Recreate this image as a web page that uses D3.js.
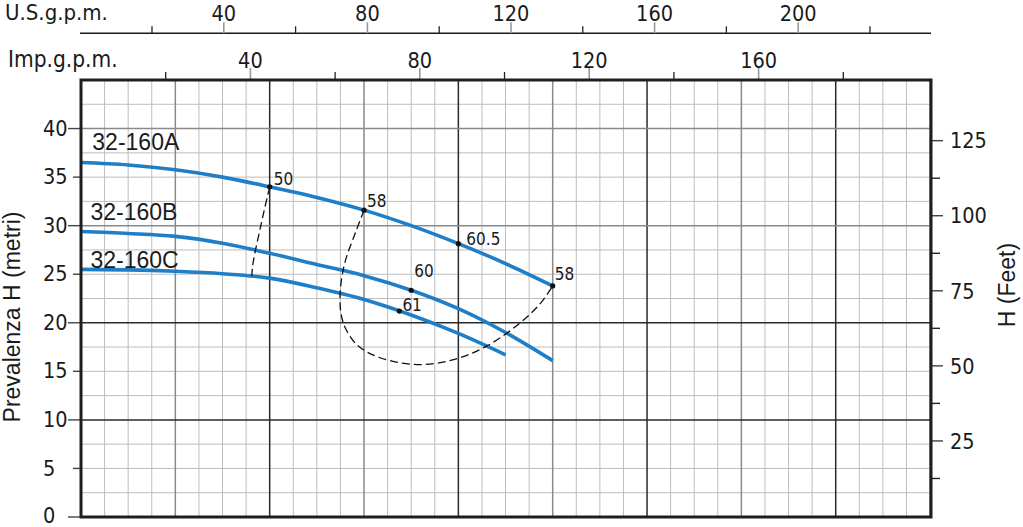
<!DOCTYPE html>
<html><head><meta charset="utf-8">
<script src="https://cdn.jsdelivr.net/npm/d3@7/dist/d3.min.js"></script>
<style>
body{margin:0;background:#fff}
.din{font-family:"DejaVu Sans Condensed","DejaVu Sans",sans-serif;font-stretch:condensed;fill:#1a1a1a}
.ar{font-family:"Liberation Sans",Arial,sans-serif;fill:#1a1a1a}
</style></head><body>
<svg id="c" width="1023" height="527"></svg>
<script>
// ---- data ----
const flowMax = 901;      // l/min (hidden bottom axis)
const headMax = 45;       // m
const feetMax = 145.2;    // ft
const usMax = 237;        // U.S. gpm
const impMax = 200.7;     // Imp gpm

const usMajor = [40, 80, 120, 160, 200];
const usMinor = [20, 60, 100, 140, 180, 220];
const impMajor = [40, 80, 120, 160];
const impMinor = [20, 60, 100, 140, 180];
const headTicks = [0, 5, 10, 15, 20, 25, 30, 35, 40];
const feetMajor = [25, 50, 75, 100, 125];
const feetMinor = [12.5, 37.5, 62.5, 87.5, 112.5];

const seriesNames = ["32-160A", "32-160B", "32-160C"];
const flowA = [0, 50, 100, 150, 200, 250, 300, 350, 400, 450, 500];
const headA = [36.5, 36.25, 35.75, 35.0, 34.0, 32.9, 31.6, 30.0, 28.15, 26.1, 23.8];
const flowB = [0, 50, 100, 150, 200, 250, 300, 350, 400, 450, 500];
const headB = [29.4, 29.2, 28.9, 28.2, 27.15, 26.0, 24.85, 23.35, 21.45, 19.0, 16.1];
const flowC = [0, 50, 100, 150, 200, 250, 300, 350, 400, 450];
const headC = [25.5, 25.45, 25.3, 25.05, 24.6, 23.6, 22.4, 20.8, 18.9, 16.7];
const labelFlow = [12, 10, 10];
const labelHead = [37.8, 30.6, 25.65];

// efficiency iso-lines (dashed)
const iso50Flow = [200, 194, 189.5, 185, 182, 181];
const iso50Head = [34.0, 31.5, 29.5, 27.5, 25.9, 24.8];
const iso58Flow = [300, 291, 280, 275, 275.5, 281, 294, 317, 356, 395, 430, 465, 487, 500];
const iso58Head = [31.6, 29.3, 26.3, 23.5, 21.0, 19.3, 17.6, 16.4, 15.7, 16.2, 17.6, 19.95, 22.0, 23.8];

// efficiency points
const effFlow = [200, 300, 400, 500, 350, 337.5];
const effHead = [34.0, 31.6, 28.15, 23.8, 23.35, 21.2];
const effText = ["50", "58", "60.5", "58", "60", "61"];
const effDx = [4, 3, 8, 2, 3, 3];
const effDy = [-2, -3, 1, -6, -13, 0];

// ---- scales ----
const svg = d3.select("#c");
const x = d3.scaleLinear().domain([0, flowMax]).range([81, 931]);
const y = d3.scaleLinear().domain([0, headMax]).range([517, 80]);
const yFt = d3.scaleLinear().domain([0, feetMax]).range([516, 80]);
const xUs = d3.scaleLinear().domain([0, usMax]).range([80.2, 931]);
const xImp = d3.scaleLinear().domain([0, impMax]).range([81, 931]);
const [x0, x1] = x.range(), [y0, y1] = y.range();

// ---- grid ----
const g = svg.append("g");
const minorX = d3.range(25, flowMax, 25).filter(v => v % 100 !== 0);
const minorY = d3.range(2.5, headMax, 2.5).filter(v => v % 10 !== 0);
g.selectAll(".mx").data(minorX).join("line")
  .attr("x1", d => x(d)).attr("x2", d => x(d)).attr("y1", y0).attr("y2", y1)
  .attr("stroke", "#bdbdbd").attr("stroke-width", 1);
g.selectAll(".my").data(minorY).join("line")
  .attr("y1", d => y(d)).attr("y2", d => y(d)).attr("x1", x0).attr("x2", x1)
  .attr("stroke", "#bdbdbd").attr("stroke-width", 1);
const majorX = d3.range(100, flowMax, 100);
g.selectAll(".Mx").data(majorX).join("line")
  .attr("x1", d => x(d)).attr("x2", d => x(d)).attr("y1", y0).attr("y2", y1)
  .attr("stroke", d => (d / 100) % 2 ? "#8a8a8a" : "#2a2a2a").attr("stroke-width", 1.5);
const majorY = [10, 20, 30, 40];
g.selectAll(".My").data(majorY).join("line")
  .attr("y1", d => y(d)).attr("y2", d => y(d)).attr("x1", x0).attr("x2", x1)
  .attr("stroke", d => d >= 30 ? "#8a8a8a" : "#2a2a2a").attr("stroke-width", 1.5);

// ---- curves ----
const series = [[flowA, headA], [flowB, headB], [flowC, headC]];
const line = d3.line().x(d => x(d[0])).y(d => y(d[1])).curve(d3.curveCatmullRom.alpha(0.5));
series.forEach(([f, h]) => {
  svg.append("path").datum(f.map((v, i) => [v, h[i]]))
    .attr("d", line).attr("fill", "none").attr("stroke", "#1f7ec8")
    .attr("stroke-width", 3.6).attr("stroke-linecap", "butt");
});
[[iso50Flow, iso50Head], [iso58Flow, iso58Head]].forEach(([f, h]) => {
  svg.append("path").datum(f.map((v, i) => [v, h[i]]))
    .attr("d", line).attr("fill", "none").attr("stroke", "#111")
    .attr("stroke-width", 1.3).attr("stroke-dasharray", "8,4");
});
svg.selectAll(".dot").data(effFlow).join("circle")
  .attr("cx", d => x(d)).attr("cy", (d, i) => y(effHead[i])).attr("r", 2.6).attr("fill", "#111");
svg.selectAll(".eff").data(effText).join("text").attr("class", "din")
  .attr("x", (d, i) => x(effFlow[i]) + effDx[i]).attr("y", (d, i) => y(effHead[i]) + effDy[i])
  .attr("font-size", 17).text(d => d);
svg.selectAll(".sl").data(seriesNames).join("text").attr("class", "ar")
  .attr("x", (d, i) => x(labelFlow[i])).attr("y", (d, i) => y(labelHead[i]))
  .attr("font-size", 23).text(d => d);

// ---- left axis ----
svg.selectAll(".lt").data(headTicks).join("line")
  .attr("x1", d => d % 10 === 0 ? x0 - 13 : x0 - 8).attr("x2", x0)
  .attr("y1", d => y(d)).attr("y2", d => y(d)).attr("stroke", "#444").attr("stroke-width", 1.4);
svg.selectAll(".ll").data(headTicks).join("text").attr("class", "din")
  .attr("x", 43).attr("y", d => y(d)).attr("dy", d => d === 0 ? "0.28em" : "0.33em").attr("font-size", 21.5).text(d => d);
svg.append("text").attr("class", "ar").attr("font-size", 23).attr("text-anchor", "middle")
  .attr("transform", "translate(20,317) rotate(-90)").text("Prevalenza H (metri)");

// ---- right axis ----
svg.selectAll(".rt").data(feetMajor).join("line")
  .attr("x1", x1).attr("x2", x1 + 12).attr("y1", d => yFt(d)).attr("y2", d => yFt(d))
  .attr("stroke", "#444").attr("stroke-width", 1.4);
svg.selectAll(".rm").data(feetMinor).join("line")
  .attr("x1", x1).attr("x2", x1 + 9).attr("y1", d => yFt(d)).attr("y2", d => yFt(d))
  .attr("stroke", "#222").attr("stroke-width", 1.4);
svg.selectAll(".rl").data(feetMajor).join("text").attr("class", "din")
  .attr("x", 950).attr("y", d => yFt(d)).attr("dy", "0.36em").attr("font-size", 21.5).text(d => d);
svg.append("text").attr("class", "ar").attr("font-size", 23).attr("text-anchor", "middle")
  .attr("transform", "translate(1015,285) rotate(-90)").text("H (Feet)");

// ---- top axes ----
const usY = 33.3;
svg.append("line").attr("x1", 80).attr("x2", x1).attr("y1", usY).attr("y2", usY)
  .attr("stroke", "#1a1a1a").attr("stroke-width", 1.6);
svg.selectAll(".um").data(usMinor).join("line")
  .attr("x1", d => xUs(d)).attr("x2", d => xUs(d)).attr("y1", usY - 7).attr("y2", usY)
  .attr("stroke", "#222").attr("stroke-width", 1.3);
svg.selectAll(".uM").data(usMajor).join("line")
  .attr("x1", d => xUs(d)).attr("x2", d => xUs(d)).attr("y1", usY - 11).attr("y2", usY)
  .attr("stroke", "#999").attr("stroke-width", 1.6);
svg.selectAll(".ul").data(usMajor).join("text").attr("class", "din")
  .attr("x", d => xUs(d)).attr("y", 20.5).attr("text-anchor", "middle").attr("font-size", 21.5).text(d => d);
svg.append("text").attr("class", "din").attr("x", 5).attr("y", 20).attr("font-size", 22).text("U.S.g.p.m.");

const impY = y1 - 1;
svg.selectAll(".im").data(impMinor).join("line")
  .attr("x1", d => xImp(d)).attr("x2", d => xImp(d)).attr("y1", impY - 7).attr("y2", impY)
  .attr("stroke", "#222").attr("stroke-width", 1.3);
svg.selectAll(".iM").data(impMajor).join("line")
  .attr("x1", d => xImp(d)).attr("x2", d => xImp(d)).attr("y1", impY - 11).attr("y2", impY)
  .attr("stroke", "#999").attr("stroke-width", 1.6);
svg.selectAll(".il").data(impMajor).join("text").attr("class", "din")
  .attr("x", d => xImp(d)).attr("y", 68).attr("text-anchor", "middle").attr("font-size", 21.5).text(d => d);
svg.append("text").attr("class", "din").attr("x", 8).attr("y", 67).attr("font-size", 22.5).text("Imp.g.p.m.");

// ---- frame ----
svg.append("rect").attr("x", x0).attr("y", y1).attr("width", x1 - x0).attr("height", y0 - y1)
  .attr("fill", "none").attr("stroke", "#1e1e1e").attr("stroke-width", 3);
</script>
</body></html>
